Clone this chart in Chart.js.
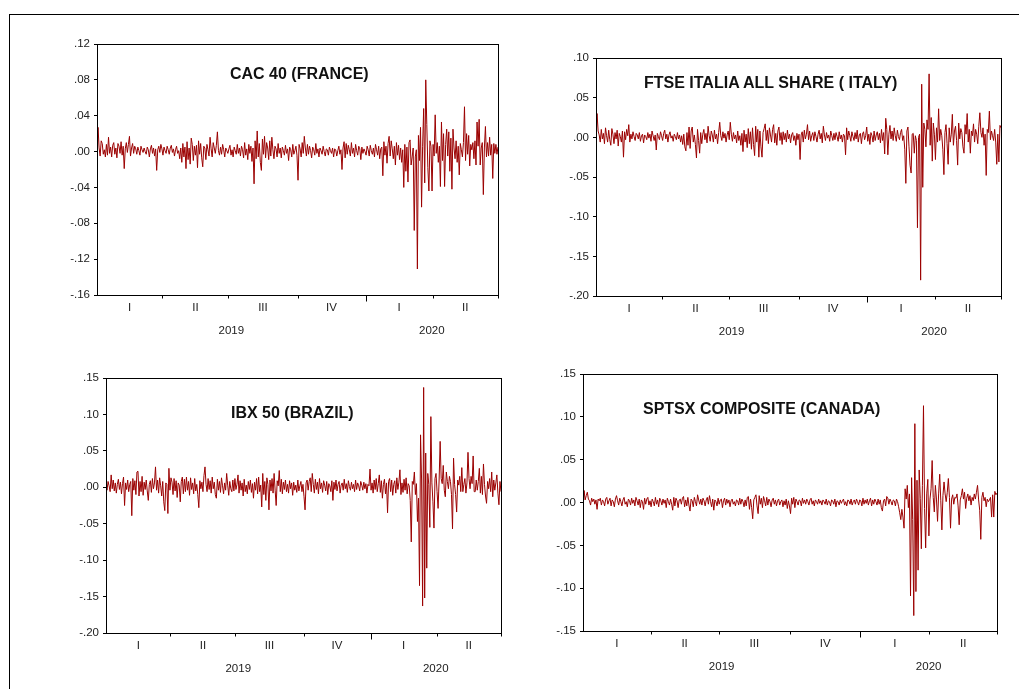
<!DOCTYPE html>
<html><head><meta charset="utf-8">
<script src="https://cdn.jsdelivr.net/npm/chart.js@4.4.1/dist/chart.umd.min.js"></script>
<style>
html,body{margin:0;padding:0;background:#fff;}
body{width:1019px;height:689px;position:relative;overflow:hidden;font-family:"Liberation Sans",Arial,sans-serif;}
#frame{position:absolute;left:9px;top:14px;width:1020px;height:690px;border-top:1px solid #000;border-left:1px solid #000;}
canvas{position:absolute;}
.ttl{position:absolute;font:bold 16px/16px "Liberation Sans",Arial,sans-serif;color:#111;white-space:nowrap;z-index:2;}
</style></head><body>
<div id="frame"></div>
<canvas id="c0"></canvas><canvas id="c1"></canvas><canvas id="c2"></canvas><canvas id="c3"></canvas>
<div class="ttl" id="t0"></div><div class="ttl" id="t1"></div><div class="ttl" id="t2"></div><div class="ttl" id="t3"></div>
<script>
// ---------- data ----------
const panelTitles = ['CAC 40 (FRANCE)', 'FTSE ITALIA ALL SHARE ( ITALY)', 'IBX 50 (BRAZIL)', 'SPTSX COMPOSITE (CANADA)'];
const quarterLabels = ['I', 'II', 'III', 'IV', 'I', 'II'];
const yearLabels = ['2019', '2020'];
const quarterStarts = [0, 63, 126, 192, 257, 321]; // first observation of each quarter
const yearStarts = [0, 257];
const obsCount = 384;

const cacYTicks = [-.16, -.12, -.08, -.04, 0, .04, .08, .12];
const italyYTicks = [-.20, -.15, -.10, -.05, 0, .05, .10];
const brazilYTicks = [-.20, -.15, -.10, -.05, 0, .05, .10, .15];
const canadaYTicks = [-.15, -.10, -.05, 0, .05, .10, .15];

const cacReturns = [
-.016,.027,.004,-.005,.012,.009,-.003,.002,-.006,.008,-.004,.016,-.002,.005,-.006,.007,
.010,-.003,.004,-.007,.009,.006,-.002,.011,-.004,.006,-.019,.003,.010,-.001,.008,.017,
-.005,.004,.009,-.002,.006,.003,-.003,.005,.001,-.004,.006,.002,-.001,.004,.000,-.003,
.005,.002,-.006,.003,.007,-.002,.004,-.005,.003,-.021,.002,.006,-.001,.008,.003,-.004,
.005,.001,-.002,.006,.002,-.003,.004,.007,-.001,.003,-.005,.002,.006,-.002,.001,-.008,
.004,-.012,.009,-.006,.005,-.019,.011,-.009,.004,-.014,.015,.008,-.010,.006,-.004,.007,
-.018,.012,-.003,.009,-.007,-.017,.006,.004,-.009,.008,.002,-.005,.016,.003,-.006,.010,
.004,-.002,.007,.022,.001,-.004,.005,-.003,.008,.002,-.006,.004,.001,-.002,.003,.007,
-.004,.002,-.006,.005,.001,-.003,.008,-.002,.004,-.005,.006,.002,-.007,.010,-.004,.003,
-.009,.008,-.002,.006,-.011,.004,-.036,.012,-.008,.023,-.006,.009,-.012,-.021,.014,-.003,
.017,-.007,.010,.004,-.009,.012,-.005,.016,.002,-.008,.006,.003,-.006,.009,-.002,.004,
-.007,.005,.001,-.004,.007,-.002,.003,-.010,.005,.002,-.006,.008,-.003,.001,.006,-.004,
-.032,.008,.003,-.006,.010,-.002,.017,.004,-.005,.008,-.003,.006,.001,-.007,.005,.002,
-.004,.009,-.002,.003,-.006,.004,.001,-.003,.006,.000,-.005,.003,.002,-.004,.005,.001,
-.002,.004,-.006,.003,.002,-.005,.001,.006,-.003,.002,-.020,.004,.011,-.007,.009,-.003,
.007,.002,-.005,.010,-.002,.004,-.006,.008,.001,-.004,.006,.003,-.009,.005,-.002,.003,
.000,-.004,.006,.002,-.005,.007,.001,-.003,.004,-.006,.008,.002,-.004,.006,-.008,.003,
.005,-.027,.011,-.004,.006,-.013,.009,.017,-.005,.012,.003,-.008,.006,-.015,.010,-.004,
.007,-.009,.004,-.012,.002,-.040,.008,-.022,.005,-.034,.010,.013,-.015,-.006,.004,-.088,
-.006,.002,-.131,.018,-.010,.027,-.062,.006,.048,-.035,.080,.030,-.018,-.044,.012,.006,
-.044,.008,-.005,.041,-.002,.010,-.012,.006,-.039,.033,-.010,.020,-.039,.008,.025,-.005,
.022,-.022,.015,-.042,.025,.004,-.008,.012,-.012,.006,-.026,.009,.002,-.006,.010,.050,
-.010,.020,-.003,.018,-.016,.008,.002,.010,-.008,.012,-.015,.033,.006,.036,-.015,.004,
.010,-.048,.004,.028,-.006,.010,-.005,.016,-.004,.008,-.030,.009,-.002,.008,-.003,.005
];

const italyReturns = [
-.004,.030,.008,.003,-.006,.010,-.002,.005,-.008,.012,.002,-.006,.009,-.003,-.010,.011,
.004,-.008,.006,-.002,.009,-.011,.005,.001,-.006,.008,-.025,.007,-.003,.010,.002,.016,
-.006,.004,-.002,.007,.001,-.004,.005,.003,-.002,.006,-.005,.002,.004,-.007,.003,.001,
-.003,.006,-.001,.004,-.005,.008,.002,-.004,.003,-.016,.005,.001,-.003,.007,.002,-.004,
.005,.009,-.002,.004,-.006,.003,.007,-.001,.002,-.005,.004,.001,-.003,.006,-.002,.003,
-.006,.002,-.009,.004,-.012,-.017,.006,-.010,.013,-.014,.008,.013,-.006,.003,-.009,-.026,
.010,-.004,-.020,.006,-.008,.004,.010,-.003,.005,-.007,.014,.002,-.005,.008,.003,-.006,
.009,-.002,.004,-.008,.006,.019,.002,-.004,.007,-.001,.005,-.006,.003,.008,-.003,.019,
.004,-.005,.006,-.002,.003,-.007,.008,-.004,.002,-.010,.005,-.018,.009,-.006,.004,-.013,
.011,-.008,.007,-.015,.012,-.009,-.023,.014,-.006,.010,-.025,.008,-.012,-.025,.006,.011,
.017,-.004,.009,-.008,.012,.003,-.006,.010,.016,-.007,.005,-.010,.008,.013,-.004,.006,
-.009,.007,-.003,.005,-.006,.009,-.002,.004,-.007,.003,.006,-.004,.002,-.010,.005,-.003,
.004,-.028,.003,.007,-.006,.009,-.002,.004,.016,-.003,.008,-.005,.002,.006,-.004,.007,
.001,-.006,.004,.009,-.002,.005,-.007,.014,.003,-.004,.006,-.001,.003,-.005,.008,.002,
-.004,.005,-.003,.006,.001,-.005,.007,-.002,.003,-.006,.004,.002,-.022,.012,-.003,.008,
.002,-.005,.007,.001,-.004,.006,-.002,.009,-.006,.003,.005,-.008,.004,.007,-.003,.002,
.013,-.005,.004,-.009,.006,.002,-.006,.008,-.004,.003,.007,-.003,.005,-.007,.010,-.004,
.006,-.021,.024,.010,-.022,.004,.015,-.002,.008,-.004,.012,.002,-.005,.009,.001,-.003,
.006,.010,-.004,.002,-.015,-.058,.008,.013,-.012,-.035,-.045,.004,.005,-.020,.002,-.004,
-.114,.000,.004,-.180,.067,-.063,.018,.010,-.012,.022,.010,.080,-.010,.025,-.030,.018,
.004,-.028,.012,-.006,.036,-.004,.010,.002,-.015,-.047,.006,.016,-.008,-.034,.012,-.006,
.004,.029,-.010,.008,.014,-.004,-.035,.018,-.002,.011,.006,-.012,-.020,.016,.004,.030,
-.006,.010,-.020,.008,.002,.017,-.006,.010,.004,-.008,.014,.031,.006,.000,.012,-.010,
.004,-.048,.010,.006,.033,-.003,.008,.002,-.004,.010,-.006,-.034,.004,-.031,.015,.012
];

const brazilReturns = [
.003,-.004,.008,.002,-.006,.017,-.002,.010,-.005,.006,-.008,.004,.011,-.003,.007,-.009,
.005,.014,-.025,.006,-.003,.010,-.006,.004,.008,-.039,.012,-.004,.009,-.010,.021,.022,
-.012,.008,-.006,.015,-.011,.007,-.003,.010,-.005,-.018,.004,.009,-.007,.012,-.002,.006,
.028,-.004,.010,-.008,.013,.002,-.012,.008,-.020,-.032,.006,.004,-.036,.026,-.004,.013,
.007,-.010,.012,-.005,.009,-.014,.006,.003,-.020,.008,.014,-.009,.011,-.006,.014,-.004,
.008,-.011,.013,-.003,.006,-.009,.012,-.005,.004,-.010,-.028,.009,-.002,.007,-.006,.016,
.028,.004,-.006,.012,-.003,.009,-.008,.014,-.002,.007,-.010,-.015,.011,-.004,.008,-.007,
.013,.002,-.009,.006,-.004,.019,.003,-.011,.008,-.002,-.006,.010,-.005,.012,-.003,.004,
.017,-.008,.009,-.004,.006,-.012,.011,-.006,.003,-.009,.008,-.003,.010,-.007,.005,-.015,
.007,-.004,.012,-.009,.014,-.006,.003,-.027,.019,-.010,.008,-.018,.013,.004,-.031,.010,
-.005,.012,-.008,.019,-.004,-.025,.009,.002,.023,-.006,.011,-.009,.007,-.003,.010,-.006,
.004,-.008,.009,-.002,.006,-.011,.007,-.004,.003,-.007,.010,-.005,.002,.008,-.006,.004,
-.013,-.031,.006,.010,-.004,.008,.013,-.006,.019,.004,-.008,.011,-.003,.007,-.009,.012,
-.002,.006,-.007,.009,.003,-.005,.008,-.010,.005,.002,-.006,.009,-.018,.007,-.003,.010,
-.005,.004,.008,-.008,.003,.006,-.004,.011,-.002,.005,-.007,.009,.001,-.004,.007,-.002,
.004,-.006,.010,-.003,.006,.002,-.005,.008,.003,-.004,.007,-.002,.005,-.008,.004,.002,
.025,-.004,.006,-.008,.010,-.003,.012,-.006,.005,.017,-.007,.009,-.015,.004,.011,-.009,
.006,-.035,.008,.012,-.006,.010,-.011,.004,.009,-.008,.013,-.003,.007,.024,-.010,.006,
-.007,.011,-.004,.013,-.009,.005,.002,-.018,-.075,.008,.004,.021,-.010,.005,-.047,-.015,
-.135,.072,.010,-.163,.137,-.152,.047,-.111,.019,.004,-.055,.097,.006,-.020,-.056,.012,
.019,-.006,-.029,.010,.063,.012,.005,.030,-.004,-.013,.021,.008,-.002,.015,.008,-.010,
-.057,.040,.004,-.010,-.034,.010,.003,.015,-.006,.027,-.006,.004,.012,-.008,.006,.048,
.012,-.002,.015,.005,.043,-.006,-.006,.010,-.004,.008,.026,-.008,.015,-.010,.032,.004,
-.012,-.022,.008,-.002,.012,-.006,.021,-.013,.010,-.004,.006,.017,-.008,-.024,.008,-.006
];

const canadaReturns = [
-.009,.014,.003,.008,.012,.004,.002,-.003,.005,.001,.004,-.002,.003,-.008,.004,.002,
.005,-.003,.003,.001,-.004,.004,.006,-.002,.002,.005,-.004,.003,.001,-.005,.004,.008,
.002,-.003,.005,.001,-.004,.003,.006,-.002,.001,-.005,.004,.002,-.003,.005,-.001,.003,
-.004,.006,.002,-.003,.004,-.006,.003,.001,-.008,.005,-.002,.004,.006,-.003,.002,-.005,
.004,.001,-.004,.006,-.002,.003,-.005,.005,.002,-.003,.004,-.001,.003,-.006,.005,.001,
-.003,.004,-.002,-.009,.006,-.004,.005,.002,-.006,.003,.004,-.002,.005,.007,-.005,.003,
-.004,.006,-.003,-.010,.004,.002,-.005,.006,.001,-.004,.009,.003,-.002,.004,-.003,.005,
.002,-.004,.003,.006,-.002,.008,.001,-.005,.004,-.009,.003,.001,-.004,.005,-.002,.003,
.004,-.006,.002,.005,-.003,.004,-.001,.003,-.005,.002,.004,-.002,.001,-.004,.003,.002,
-.003,.005,-.002,.004,.001,-.005,.003,-.004,.006,.007,-.008,.004,-.006,-.019,.003,.006,
.009,-.004,-.013,.008,-.002,.005,-.006,.007,.002,-.004,.006,-.003,.004,.001,-.005,.003,
.005,-.002,.003,-.004,.002,.004,-.003,.001,.003,-.005,.002,-.003,.004,-.007,.002,-.004,
-.013,.005,-.002,.006,-.006,.004,.001,-.003,.003,.002,-.004,.005,-.001,.003,-.002,.004,
.001,-.003,.003,.005,-.002,.002,-.004,.003,.001,-.002,.004,-.001,.002,-.003,.003,.001,
-.002,.004,-.003,.002,.001,-.004,.003,.002,-.002,.004,-.005,.002,.001,-.003,.003,-.001,
.002,.004,-.003,.001,-.004,.003,.002,-.002,.004,-.003,.001,.003,-.002,.004,.001,-.003,
.003,.002,-.004,.005,-.002,.003,-.001,.004,-.003,.002,.005,-.004,.003,-.002,.004,.001,
-.003,.004,-.002,.003,-.006,-.010,.002,.004,-.004,.007,.005,-.002,.004,.001,-.003,.003,
.002,-.004,.004,.001,-.005,-.012,-.020,-.008,-.017,-.030,.016,.004,.020,-.006,.010,-.109,
.029,-.020,-.132,.092,-.104,.026,-.079,.038,.005,-.054,.020,.113,-.007,-.053,.010,.027,
-.039,.004,.016,.049,.006,-.011,.020,.004,-.022,.010,.033,.002,-.032,.008,.024,.010,
.001,.012,.028,.006,-.030,.004,.009,-.002,.006,.005,.010,-.004,-.026,.003,.008,.016,
.004,.012,-.007,.005,.010,.002,.008,-.003,.006,.002,.010,.004,.012,.020,.003,-.009,
-.043,.006,.012,.002,.006,-.005,.004,.001,.003,.006,-.017,.009,-.017,.013,.009,.011
];

// ---------- layout (pixel positions of each panel) ----------
const panelLayout = [
  {canvas: [47, 32, 457, 310],  title: [230, 66]},
  {canvas: [546, 46, 461, 297], title: [644, 75]},
  {canvas: [56, 366, 451, 314], title: [231, 405]},
  {canvas: [533, 362, 470, 316], title: [643, 401]}
];
const panelSeries = [cacReturns, italyReturns, brazilReturns, canadaReturns];
const panelYTicks = [cacYTicks, italyYTicks, brazilYTicks, canadaYTicks];

const FONT = '"Liberation Sans", Arial, sans-serif';
const TICK_SIZE = 11.5;
const LINE_COLOR = '#9b0000';

const lastIdx = obsCount - 1;
const quarterMids = quarterStarts.map((s, q) => {
  const lo = q === 0 ? 0 : s - 0.5;
  const hi = q === quarterStarts.length - 1 ? lastIdx : quarterStarts[q + 1] - 0.5;
  return (lo + hi) / 2;
});
const yearMids = yearStarts.map((s, k) => {
  const lo = k === 0 ? 0 : s - 0.5;
  const hi = k === yearStarts.length - 1 ? lastIdx : yearStarts[k + 1] - 0.5;
  return (lo + hi) / 2;
});

function fmtY(v) {
  const s = Math.abs(v).toFixed(2).replace(/^0/, '');
  return (v < -1e-9 ? '-' : '') + s;
}

const framePlugin = {
  id: 'eviewsFrame',
  afterDraw(chart) {
    const {ctx, chartArea: a} = chart;
    const xs = chart.scales.x;
    ctx.save();
    ctx.strokeStyle = '#000';
    ctx.lineWidth = 1;
    const l = Math.round(a.left) + 0.5, t = Math.round(a.top) + 0.5;
    const r = Math.round(a.right) + 0.5, b = Math.round(a.bottom) + 0.5;
    ctx.strokeRect(l, t, r - l, b - t);
    ctx.beginPath();
    const bounds = quarterStarts.slice(1).map(s => s - 0.5).concat([lastIdx]);
    bounds.forEach((bv, i) => {
      const px = Math.round(xs.getPixelForValue(bv)) + 0.5;
      const isYear = yearStarts.indexOf(quarterStarts[i + 1]) > 0;
      ctx.moveTo(px, b);
      ctx.lineTo(px, b + (isYear ? 6 : 3));
    });
    ctx.stroke();
    ctx.restore();
  }
};

panelSeries.forEach((series, p) => {
  const lay = panelLayout[p];
  const cv = document.getElementById('c' + p);
  cv.style.left = lay.canvas[0] + 'px';
  cv.style.top = lay.canvas[1] + 'px';
  cv.width = lay.canvas[2];
  cv.height = lay.canvas[3];
  cv.style.width = lay.canvas[2] + 'px';
  cv.style.height = lay.canvas[3] + 'px';

  const t = document.getElementById('t' + p);
  t.textContent = panelTitles[p];
  t.style.left = lay.title[0] + 'px';
  t.style.top = lay.title[1] + 'px';

  const yt = panelYTicks[p];
  new Chart(cv, {
    type: 'line',
    data: {
      datasets: [{
        data: series.map((v, i) => ({x: i, y: v})),
        borderColor: LINE_COLOR,
        borderWidth: 1,
        pointRadius: 0,
        tension: 0,
        fill: false
      }]
    },
    options: {
      responsive: false,
      animation: false,
      devicePixelRatio: 1,
      events: [],
      layout: {padding: {left: 0, top: 12, right: 6, bottom: 2}},
      plugins: {legend: {display: false}, tooltip: {enabled: false}, title: {display: false}},
      scales: {
        x: {
          type: 'linear', position: 'bottom', min: 0, max: lastIdx, weight: 0,
          afterBuildTicks: s => { s.ticks = quarterMids.map(v => ({value: v})); },
          afterFit: s => { s.height = 22; },
          ticks: {autoSkip: false, maxRotation: 0, padding: 6, color: '#222',
                  font: {family: FONT, size: TICK_SIZE}, callback: (v, i) => quarterLabels[i]},
          grid: {display: false, drawTicks: false},
          border: {display: false}
        },
        xYear: {
          type: 'linear', position: 'bottom', min: 0, max: lastIdx, weight: 1,
          afterBuildTicks: s => { s.ticks = yearMids.map(v => ({value: v})); },
          afterFit: s => { s.height = 23; },
          ticks: {autoSkip: false, maxRotation: 0, padding: 7, color: '#222',
                  font: {family: FONT, size: TICK_SIZE}, callback: (v, i) => yearLabels[i]},
          grid: {display: false, drawTicks: false},
          border: {display: false}
        },
        y: {
          type: 'linear', position: 'left', min: yt[0], max: yt[yt.length - 1],
          afterBuildTicks: s => { s.ticks = yt.map(v => ({value: v})); },
          afterFit: s => { s.width = 50; },
          ticks: {padding: 4, color: '#222', font: {family: FONT, size: TICK_SIZE}, callback: v => fmtY(v)},
          grid: {display: true, drawOnChartArea: false, drawTicks: true, tickLength: 3,
                 tickColor: '#000', color: '#000', tickWidth: 1},
          border: {display: false}
        }
      }
    },
    plugins: [framePlugin]
  });
});
</script>
</body></html>
